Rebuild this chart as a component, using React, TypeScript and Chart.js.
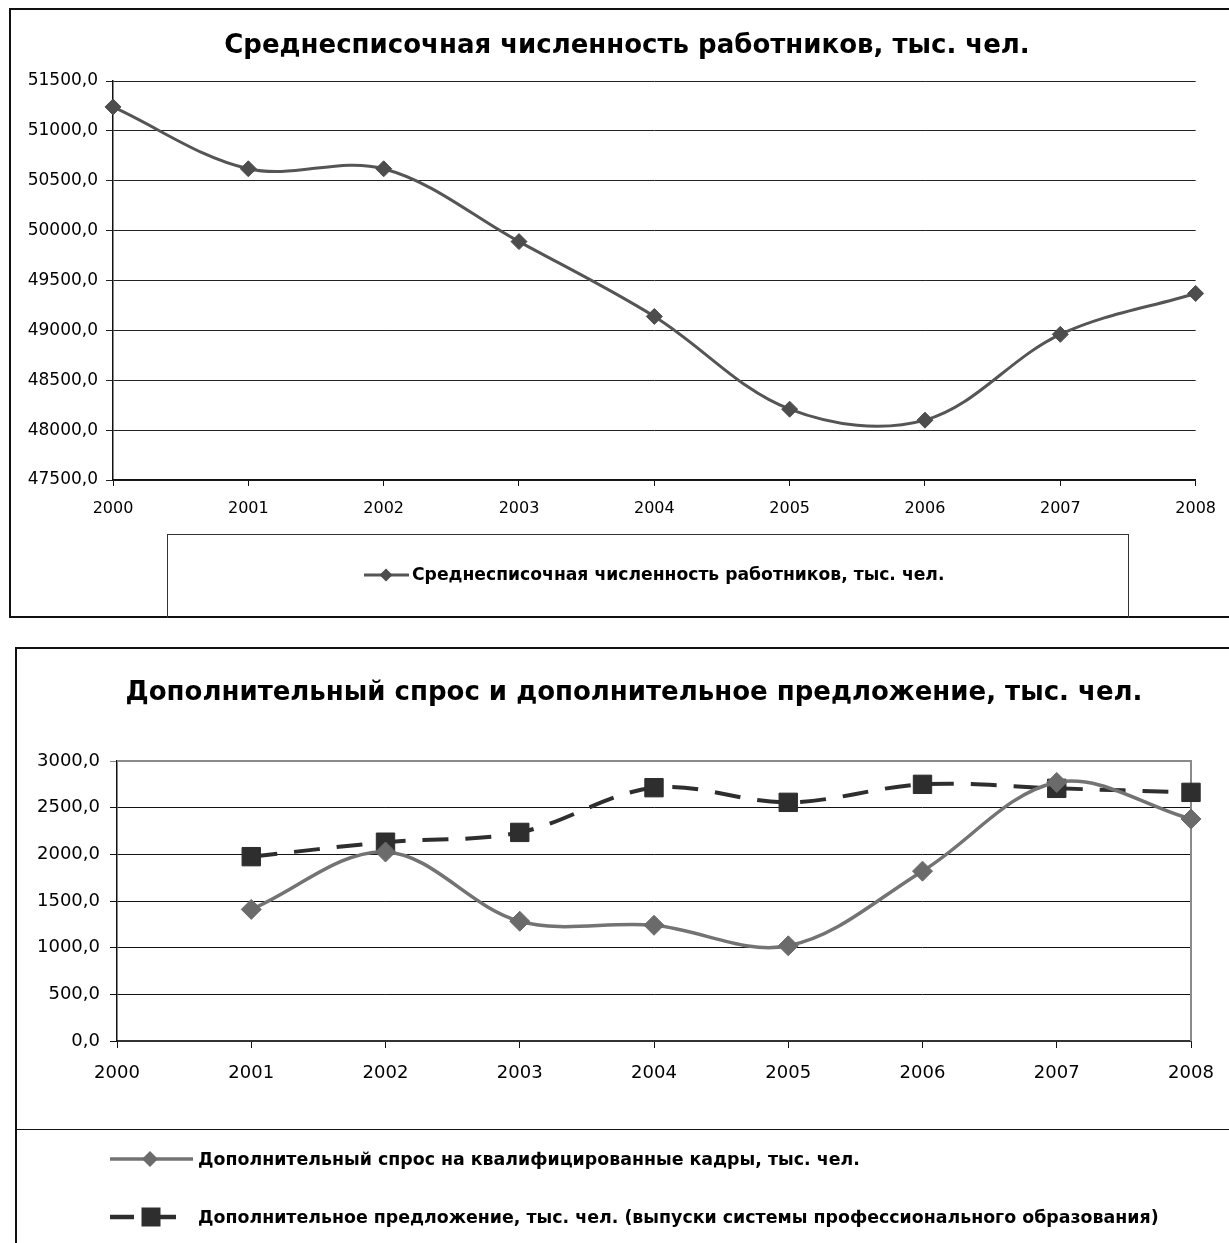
import React, { useEffect, useRef } from 'react';
import { Chart, registerables } from 'chart.js';

Chart.register(...registerables);

// ---------- data ----------
const years = ['2000', '2001', '2002', '2003', '2004', '2005', '2006', '2007', '2008'];
const employees = [51240, 50620, 50620, 49890, 49140, 48210, 48100, 48960, 49370];
const demand = [null, 1410, 2025, 1283, 1240, 1020, 1820, 2770, 2378];
const supply = [null, 1975, 2130, 2235, 2714, 2557, 2750, 2707, 2664];

const title1 = 'Среднесписочная численность работников, тыс. чел.';
const employeesLabel = 'Среднесписочная численность работников, тыс. чел.';
const title2 = 'Дополнительный спрос и дополнительное предложение, тыс. чел.';
const demandLabel = 'Дополнительный спрос на квалифицированные кадры, тыс. чел.';
const supplyLabel = 'Дополнительное предложение, тыс. чел. (выпуски системы профессионального образования)';

const topTicks = { min: 47500, max: 51500, step: 500 };
const bottomTicks = { min: 0, max: 3000, step: 500 };

const fmt = (v: number) => Number(v).toFixed(1).replace('.', ',');
const FONT = "'DejaVu Sans', sans-serif";

// ---------- plugins ----------
function drawMarker(ctx: CanvasRenderingContext2D, style: string, x: number, y: number, r: number) {
  ctx.beginPath();
  if (style === 'rectRot') {
    ctx.moveTo(x, y - r);
    ctx.lineTo(x + r, y);
    ctx.lineTo(x, y + r);
    ctx.lineTo(x - r, y);
    ctx.closePath();
  } else {
    ctx.rect(x - r, y - r, 2 * r, 2 * r);
  }
  ctx.fill();
}

const customTitle = {
  id: 'customTitle',
  afterDraw(chart: any, _args: any, opts: any) {
    if (!opts || !opts.text) return;
    const ctx = chart.ctx as CanvasRenderingContext2D;
    ctx.save();
    ctx.fillStyle = '#000';
    ctx.font = `bold ${opts.size}px ${FONT}`;
    ctx.textAlign = 'center';
    ctx.textBaseline = 'middle';
    ctx.fillText(opts.text, opts.x, opts.y);
    ctx.restore();
  },
};

const customLegend = {
  id: 'customLegend',
  afterDraw(chart: any, _args: any, opts: any) {
    if (!opts || !opts.items) return;
    const ctx = chart.ctx as CanvasRenderingContext2D;
    opts.items.forEach((it: any, i: number) => {
      const ds = chart.data.datasets[i];
      ctx.save();
      ctx.strokeStyle = ds.borderColor;
      ctx.lineWidth = it.lineWidth;
      ctx.setLineDash(it.dash || []);
      ctx.beginPath();
      ctx.moveTo(it.x0, it.y);
      ctx.lineTo(it.x1, it.y);
      ctx.stroke();
      ctx.setLineDash([]);
      ctx.fillStyle = ds.pointBackgroundColor;
      drawMarker(ctx, ds.pointStyle, it.mx, it.y, it.mr);
      ctx.fillStyle = '#000';
      ctx.font = `bold ${it.fontSize}px ${FONT}`;
      ctx.textBaseline = 'middle';
      ctx.textAlign = 'left';
      ctx.fillText(ds.label, it.tx, it.y + 1);
      ctx.restore();
    });
  },
};

const plotBorder = {
  id: 'plotBorder',
  beforeDatasetsDraw(chart: any, _args: any, opts: any) {
    if (!opts || !opts.show) return;
    const { left, top, right, bottom } = chart.chartArea;
    const ctx = chart.ctx as CanvasRenderingContext2D;
    ctx.save();
    ctx.strokeStyle = opts.color;
    ctx.lineWidth = opts.width;
    ctx.beginPath();
    ctx.moveTo(left, top);
    ctx.lineTo(right, top);
    ctx.lineTo(right, bottom);
    ctx.stroke();
    ctx.restore();
  },
};

// ---------- charts ----------
function TopChart() {
  const ref = useRef<HTMLCanvasElement>(null);
  useEffect(() => {
    const chart = new Chart(ref.current!, {
      type: 'line',
      data: {
        labels: years,
        datasets: [
          {
            label: employeesLabel,
            data: employees,
            borderColor: '#555555',
            backgroundColor: '#4d4d4d',
            pointBackgroundColor: '#4d4d4d',
            pointBorderColor: '#4d4d4d',
            borderWidth: 3,
            pointStyle: 'rectRot',
            pointRadius: 8,
            pointBorderWidth: 1,
            tension: 0.35,
            fill: false,
          } as any,
        ],
      },
      plugins: [customLegend, plotBorder, customTitle],
      options: {
        responsive: false,
        animation: false,
        devicePixelRatio: 1,
        layout: { padding: { left: 0, right: 27, top: 81, bottom: 100 } },
        plugins: {
          legend: { display: false },
          tooltip: { enabled: false },
          title: { display: false },
          customTitle: { text: title1, x: 627, y: 46, size: 26 },
          customLegend: {
            items: [{ x0: 364, x1: 409, mx: 386, mr: 6.5, y: 575, lineWidth: 3, tx: 412, fontSize: 17.2 }],
          },
        } as any,
        scales: {
          x: {
            type: 'category',
            offset: false,
            grid: { drawOnChartArea: false, drawTicks: true, tickLength: 6, color: '#111' },
            border: { color: '#111', width: 1.5 },
            ticks: { color: '#000', font: { family: FONT, size: 16 }, padding: 13, maxRotation: 0, autoSkip: false },
            afterFit: (s: any) => { s.height = 40; },
          },
          y: {
            min: topTicks.min,
            max: topTicks.max,
            grid: { color: '#222', lineWidth: 1, tickLength: 7 },
            border: { color: '#111', width: 1.5 },
            ticks: { stepSize: topTicks.step, color: '#000', font: { family: FONT, size: 17 }, padding: 8, callback: (v: any) => fmt(v) },
            afterFit: (s: any) => { s.width = 113; },
          },
        },
      } as any,
    });
    return () => chart.destroy();
  }, []);
  return <canvas ref={ref} width={1229} height={620} style={{ position: 'absolute', left: 0, top: 0, width: 1229, height: 620 }} />;
}

function BottomChart() {
  const ref = useRef<HTMLCanvasElement>(null);
  useEffect(() => {
    const chart = new Chart(ref.current!, {
      type: 'line',
      data: {
        labels: years,
        datasets: [
          {
            label: demandLabel,
            data: demand,
            borderColor: '#737373',
            pointBackgroundColor: '#6b6b6b',
            pointBorderColor: '#6b6b6b',
            borderWidth: 3.5,
            pointStyle: 'rectRot',
            pointRadius: 10,
            pointBorderWidth: 1,
            tension: 0.35,
            fill: false,
          } as any,
          {
            label: supplyLabel,
            data: supply,
            borderColor: '#2e2e2e',
            pointBackgroundColor: '#2e2e2e',
            pointBorderColor: '#2e2e2e',
            borderWidth: 4,
            borderDash: [26, 17],
            pointStyle: 'rect',
            pointRadius: 13,
            pointBorderWidth: 1,
            tension: 0.35,
            fill: false,
          } as any,
        ],
      },
      plugins: [customLegend, plotBorder, customTitle],
      options: {
        responsive: false,
        animation: false,
        devicePixelRatio: 1,
        layout: { padding: { left: 0, right: 38, top: 129, bottom: 152 } },
        plugins: {
          legend: { display: false },
          tooltip: { enabled: false },
          title: { display: false },
          customTitle: { text: title2, x: 634, y: 61, size: 26 },
          plotBorder: { show: true, color: '#8a8a8a', width: 2 },
          customLegend: {
            items: [
              { x0: 110, x1: 193, mx: 150, mr: 8, y: 527, lineWidth: 3.5, tx: 198, fontSize: 17.4 },
              { x0: 110, x1: 183, mx: 151, mr: 9.5, y: 585, lineWidth: 4.5, dash: [24, 18], tx: 198, fontSize: 17.4 },
            ],
          },
        } as any,
        scales: {
          x: {
            type: 'category',
            offset: false,
            grid: { drawOnChartArea: false, drawTicks: true, tickLength: 7, color: '#111' },
            border: { color: '#333', width: 2 },
            ticks: { color: '#000', font: { family: FONT, size: 18 }, padding: 15, maxRotation: 0, autoSkip: false },
            afterFit: (s: any) => { s.height = 50; },
          },
          y: {
            min: bottomTicks.min,
            max: bottomTicks.max,
            grid: {
              color: (c: any) => (c.tick && c.tick.value === bottomTicks.max ? '#8a8a8a' : '#111'),
              lineWidth: 1,
              tickLength: 7,
            },
            border: { color: '#111', width: 1.5 },
            ticks: { stepSize: bottomTicks.step, color: '#000', font: { family: FONT, size: 18 }, padding: 10, callback: (v: any) => fmt(v) },
            afterFit: (s: any) => { s.width = 117; },
          },
        },
      } as any,
    });
    return () => chart.destroy();
  }, []);
  return <canvas ref={ref} width={1229} height={611} style={{ position: 'absolute', left: 0, top: 632, width: 1229, height: 611 }} />;
}

export default function App() {
  return (
    <div style={{ position: 'fixed', left: 0, top: 0, width: 1229, height: 1243, overflow: 'hidden', background: '#fff' }}>
      {/* top frame */}
      <div style={{ position: 'absolute', left: 9, top: 8, width: 1260, height: 610, border: '2px solid #111', boxSizing: 'border-box' }} />
      <div style={{ position: 'absolute', left: 167, top: 534, width: 962, height: 84, borderTop: '1px solid #333', borderLeft: '1px solid #333', borderRight: '1px solid #333', boxSizing: 'border-box' }} />
      {/* bottom frame */}
      <div style={{ position: 'absolute', left: 15, top: 647, width: 1260, height: 700, border: '2px solid #111', boxSizing: 'border-box' }} />
      <div style={{ position: 'absolute', left: 16, top: 1129, width: 1240, height: 0, borderTop: '1px solid #111' }} />
      <TopChart />
      <BottomChart />
    </div>
  );
}
